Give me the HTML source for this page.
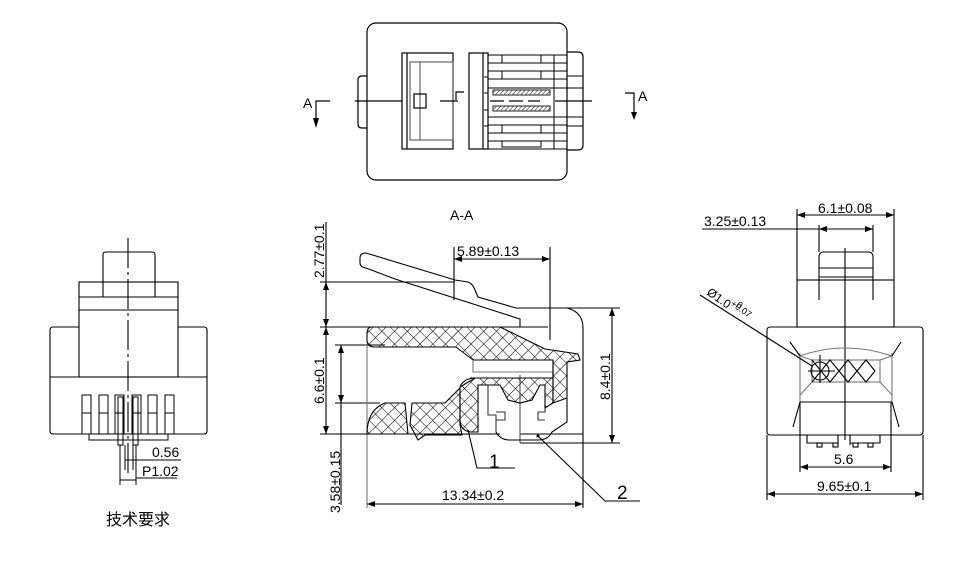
<!DOCTYPE html>
<html><head><meta charset="utf-8"><style>
html,body{margin:0;padding:0;background:#fff;}
svg{display:block;}
text{font-family:"Liberation Sans Narrow","Liberation Sans","Noto Sans CJK SC",sans-serif;fill:#000;}
</style></head><body>
<svg width="959" height="565" viewBox="0 0 959 565" xmlns="http://www.w3.org/2000/svg">
<defs>
<pattern id="xh" width="9" height="9" patternUnits="userSpaceOnUse" patternTransform="rotate(45)">
<path d="M0 0V9M0 0H9" stroke="#000" stroke-width="1.1"/>
</pattern>
<pattern id="dh" width="3" height="3" patternUnits="userSpaceOnUse" patternTransform="rotate(45)">
<path d="M0 0V3" stroke="#000" stroke-width="1"/>
</pattern>
</defs>
<g fill="none" stroke="#000" stroke-width="1.2">
<!-- TOP VIEW -->
<rect x="367" y="23" width="200" height="157" rx="9"/>
<path d="M367 76H362Q358 76 358 80V124Q358 128 362 128H367"/>
<path d="M567 52H578Q583 52 583 57V145Q583 150 578 150H567"/>
<rect x="402" y="53" width="51" height="96"/>
<line x1="407" y1="53" x2="407" y2="149"/>
<rect x="410" y="62" width="43" height="78" stroke="#666"/>
<line x1="420" y1="62" x2="420" y2="140" stroke="#666"/>
<rect x="414" y="94" width="12" height="14"/>
<rect x="469" y="53" width="19" height="96"/>
<line x1="483" y1="53" x2="483" y2="149"/>
<g stroke-width="1">
<line x1="488" y1="55" x2="567" y2="55"/><line x1="488" y1="63" x2="567" y2="63"/>
<line x1="488" y1="71" x2="567" y2="71"/><line x1="488" y1="79" x2="567" y2="79"/>
<line x1="488" y1="88" x2="583" y2="88"/><line x1="488" y1="117" x2="583" y2="117"/>
<line x1="488" y1="125" x2="567" y2="125"/><line x1="488" y1="133" x2="567" y2="133"/>
<line x1="488" y1="141" x2="567" y2="141"/><line x1="488" y1="149" x2="567" y2="149"/>
<line x1="567" y1="76" x2="583" y2="76"/><line x1="567" y1="126" x2="583" y2="126"/>
<rect x="502" y="55" width="39" height="8"/><rect x="502" y="71" width="39" height="8"/>
<rect x="502" y="125" width="39" height="8"/><rect x="502" y="141" width="39" height="6"/>
<line x1="554" y1="55" x2="554" y2="149"/>
<line x1="484" y1="77" x2="488" y2="77"/><line x1="484" y1="126" x2="488" y2="126"/>
<line x1="484" y1="93" x2="488" y2="93"/><line x1="484" y1="110" x2="488" y2="110"/>
</g>
<rect x="493" y="90" width="57" height="5" fill="url(#dh)" stroke="#444"/>
<rect x="493" y="106" width="57" height="5" fill="url(#dh)" stroke="#444"/>
<line x1="355" y1="101" x2="402" y2="101"/><line x1="440" y1="101" x2="458" y2="101"/>
<line x1="490" y1="101" x2="540" y2="101" stroke-dasharray="14,5"/><line x1="555" y1="101" x2="592" y2="101"/>
<path d="M456 100V92H464"/>
<path d="M330 101H316V124"/><path d="M625 93H634V118"/>
</g>
<path d="M313 118L316 128L319 118Z"/><path d="M631 112L634 120L637 112Z"/>
<text x="303" y="108" font-size="14">A</text>
<text x="638" y="101" font-size="14">A</text>

<!-- SECTION A-A -->
<text x="450" y="220" font-size="14">A-A</text>
<g fill="none" stroke="#000" stroke-width="1.1">
<path d="M366 253Q360 253 360 258V263Q360 267 366 268L395 279L520 319V327"/>
<path d="M366 253L455 280L468 282Q473 284 475 290L478 297L516 308H567Q583 312 583 328V434H520"/>
<line x1="454" y1="247" x2="454" y2="300"/>
<line x1="550" y1="247" x2="550" y2="340"/>
<line x1="454" y1="259" x2="550" y2="259"/>
<line x1="326" y1="222" x2="326" y2="434"/>
<line x1="320" y1="282" x2="455" y2="282"/>
<line x1="320" y1="327" x2="548" y2="327"/>
<line x1="320" y1="434" x2="500" y2="434"/>
<line x1="341" y1="345" x2="341" y2="505"/>
<line x1="335" y1="345" x2="385" y2="345"/>
<line x1="335" y1="403" x2="380" y2="403"/>
<line x1="367" y1="345" x2="367" y2="508" stroke="#777"/>
<line x1="583" y1="434" x2="583" y2="508"/>
<line x1="367" y1="504" x2="583" y2="504"/>
<line x1="566" y1="308" x2="620" y2="308"/>
<line x1="520" y1="443" x2="620" y2="443"/>
<line x1="612" y1="308" x2="612" y2="443"/>
<line x1="520" y1="375" x2="520" y2="443" stroke="#555"/>
<path d="M372 327H500L545 349L578 354L580 360L567 362V398L553 403V360H473L456 347H375Q367 347 367 340V334Q367 327 372 327Z" fill="url(#xh)"/>
<path d="M473 360V372H553" stroke="#777"/>
<path d="M470 378H553V360M460 386Q465 378 475 378" />
<path d="M460 387L475 378H553V403L545 408V385H540L532 400L520 403L508 400L500 385H478V432H470Q460 430 460 420Z" fill="url(#xh)"/>
<path d="M367 434Q367 410 385 403H405L408 434Z" fill="url(#xh)"/>
<path d="M412 403H445L460 388V425L462 435H425L418 440L410 425Z" fill="url(#xh)"/>
<path d="M488 385V415H496V432M545 408V412H538V420H545M496 412H505V420H496" stroke="#333"/>
<path d="M496 432Q500 440 510 440H538Q548 440 552 432L567 422V398"/>
<path d="M468 430L477 468H515"/>
<path d="M538 436L605 501H640"/>
</g>
<path d="M326 282l-3 8h6zM326 327l-3 -8h6zM326 327l-3 8h6zM326 434l-3 -8h6zM454 259l8 -3v6zM550 259l-8 -3v6zM367 504l8 -3v6zM583 504l-8 -3v6zM612 308l-3 8h6zM612 443l-3 -8h6zM341 345l-3 8h6zM341 403l-3 -8h6z"/>
<circle cx="538" cy="436" r="1.5"/>
<text x="457" y="256" font-size="14">5.89±0.13</text>
<text x="489" y="468" font-size="19">1</text>
<text x="617" y="499" font-size="19">2</text>
<text x="442" y="500" font-size="14">13.34±0.2</text>
<text font-size="14" transform="translate(324,278) rotate(-90)">2.77±0.1</text>
<text font-size="14" transform="translate(324,404) rotate(-90)">6.6±0.1</text>
<text font-size="14" transform="translate(340,513) rotate(-90)">3.58±0.15</text>
<text font-size="14" transform="translate(610,400) rotate(-90)">8.4±0.1</text>

<!-- RIGHT VIEW -->
<g fill="none" stroke="#000" stroke-width="1.1">
<rect x="767" y="327" width="156" height="108" rx="3"/>
<rect x="797" y="280" width="97" height="47"/>
<path d="M819 300V257Q819 252 824 252H868Q873 252 873 257V300"/>
<line x1="819" y1="268" x2="873" y2="268"/><line x1="819" y1="277" x2="873" y2="277"/>
<line x1="797" y1="209" x2="797" y2="280"/><line x1="894" y1="209" x2="894" y2="280"/>
<line x1="797" y1="215" x2="894" y2="215"/>
<line x1="819" y1="225" x2="819" y2="252"/><line x1="873" y1="225" x2="873" y2="252"/>
<line x1="702" y1="229" x2="873" y2="229"/>
<line x1="845" y1="248" x2="845" y2="440"/>
<path d="M800 356Q845 340 892 356" stroke="#777"/>
<rect x="812" y="360" width="68" height="22" stroke="#777"/>
<path d="M800 356L812 360M892 356L880 360M812 382L800 395M880 382L892 395" stroke="#777"/>
<path d="M800 353V402M892 353V402" stroke="#777"/>
<line x1="800" y1="402" x2="892" y2="402"/>
<path d="M790 342L800 356M901 342L892 356M800 402L793 427M892 402L899 427"/>
<path d="M812 360l9 11 9 -11 9 11 9 -11 9 11 9 -11 9 11 M812 382l9 -11 9 11 9 -11 9 11 9 -11 9 11 9 -11"/>
<circle cx="820" cy="371" r="9"/>
<line x1="808" y1="371" x2="835" y2="371"/><line x1="820" y1="355" x2="820" y2="383"/>
<line x1="700" y1="295" x2="812" y2="366"/>
<path d="M807 435V443H838V435M850 435V443H880V435M838 437V445M850 437V445"/>
<rect x="817" y="443" width="5" height="4"/><rect x="833" y="443" width="5" height="4"/>
<rect x="853" y="443" width="5" height="4"/><rect x="868" y="443" width="5" height="4"/>
<line x1="800" y1="402" x2="800" y2="472"/><line x1="891" y1="402" x2="891" y2="472"/>
<line x1="800" y1="467" x2="891" y2="467"/>
<line x1="767" y1="435" x2="767" y2="500"/><line x1="923" y1="435" x2="923" y2="500"/>
<line x1="767" y1="494" x2="923" y2="494"/>
</g>
<path d="M797 215l8 -3v6zM894 215l-8 -3v6zM819 229l8 -3v6zM873 229l-8 -3v6zM800 467l8 -3v6zM891 467l-8 -3v6zM767 494l8 -3v6zM923 494l-8 -3v6z"/>
<text x="818" y="213" font-size="14">6.1±0.08</text>
<text x="704" y="226" font-size="14">3.25±0.13</text>
<text x="834" y="464" font-size="14">5.6</text>
<text x="817" y="491" font-size="14">9.65±0.1</text>
<text font-size="12" transform="translate(706,294) rotate(35)">Ø1.0<tspan font-size="9" dy="-5">+0.07</tspan></text>
<text font-size="9" transform="translate(736,306) rotate(35)">0</text>

<!-- LEFT VIEW -->
<g fill="none" stroke="#000" stroke-width="1.1">
<path d="M103 297V255Q103 252 106 252H152Q155 252 155 255V297"/>
<rect x="79" y="282" width="99" height="95"/>
<line x1="79" y1="297" x2="178" y2="297"/><line x1="79" y1="310" x2="178" y2="310"/>
<path d="M79 327H53Q50 327 50 330V431Q50 434 53 434H204Q207 434 207 431V330Q207 327 204 327H178"/>
<line x1="50" y1="377" x2="79" y2="377"/><line x1="178" y1="377" x2="207" y2="377"/>
<g stroke-width="1">
<rect x="82" y="395" width="9" height="39"/><rect x="99" y="395" width="9" height="39"/>
<rect x="115" y="395" width="9" height="39"/><rect x="132" y="395" width="9" height="39"/>
<rect x="148" y="395" width="9" height="39"/><rect x="165" y="395" width="9" height="39"/>
<path d="M82 413H91M99 413H108M115 413H124M132 413H141M148 413H157M165 413H174"/>
<rect x="89" y="434" width="79" height="6"/>
<rect x="118" y="397" width="5" height="48"/><rect x="133" y="397" width="5" height="48"/>
<line x1="120" y1="445" x2="120" y2="485"/><line x1="136" y1="445" x2="136" y2="485"/>
<line x1="125" y1="445" x2="125" y2="470"/><line x1="133" y1="445" x2="133" y2="470"/>
<line x1="125" y1="460" x2="181" y2="460"/>
<line x1="136" y1="478" x2="177" y2="478"/>
<line x1="120" y1="480" x2="136" y2="480"/>
</g>
<line x1="128" y1="238" x2="128" y2="475" stroke-dasharray="30,4,3,4"/>
</g>
<text x="152" y="457" font-size="14">0.56</text>
<text x="142" y="476" font-size="14">P1.02</text>
<text x="106" y="525" font-size="16">技术要求</text>
</svg>
</body></html>
